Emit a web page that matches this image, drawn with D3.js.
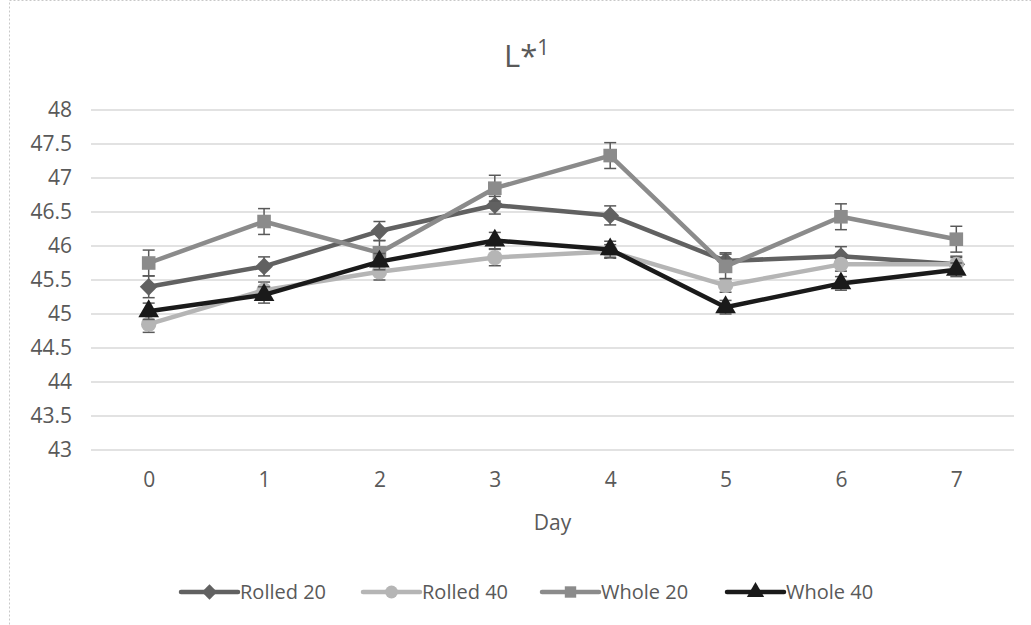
<!DOCTYPE html>
<html>
<head>
<meta charset="utf-8"/>
<title>L*1</title>
<style>
  body { margin: 0; background: #fff; }
  text { font-family: "Open Sans", "Noto Sans", sans-serif; fill: #595959; }
</style>
</head>
<body>
<svg id="chart"></svg>
<script src="https://d3js.org/d3.v7.min.js"></script>
<script>
const days = ["0", "1", "2", "3", "4", "5", "6", "7"];
const yTicks = [43, 43.5, 44, 44.5, 45, 45.5, 46, 46.5, 47, 47.5, 48];

const rolled20 = [45.40, 45.70, 46.22, 46.60, 46.45, 45.78, 45.85, 45.73];
const rolled40 = [44.85, 45.35, 45.62, 45.83, 45.92, 45.42, 45.73, 45.73];
const whole20  = [45.75, 46.36, 45.90, 46.85, 47.33, 45.70, 46.43, 46.10];
const whole40  = [45.04, 45.28, 45.77, 46.08, 45.95, 45.10, 45.45, 45.65];

const rolled20Err = [0.16, 0.14, 0.14, 0.13, 0.14, 0.12, 0.14, 0.12];
const rolled40Err = [0.12, 0.12, 0.12, 0.12, 0.10, 0.10, 0.10, 0.10];
const whole20Err  = [0.19, 0.19, 0.18, 0.19, 0.19, 0.18, 0.19, 0.19];
const whole40Err  = [0.12, 0.12, 0.12, 0.12, 0.12, 0.10, 0.10, 0.10];

const seriesNames = ["Rolled 20", "Rolled 40", "Whole 20", "Whole 40"];
const seriesColors = ["#616161", "#b5b5b5", "#8b8b8b", "#1a1a1a"];
const seriesShapes = [d3.symbolDiamond2, d3.symbolCircle, d3.symbolSquare, d3.symbolTriangle];

const series = [
  { name: seriesNames[0], values: rolled20, err: rolled20Err, color: seriesColors[0], shape: seriesShapes[0] },
  { name: seriesNames[1], values: rolled40, err: rolled40Err, color: seriesColors[1], shape: seriesShapes[1] },
  { name: seriesNames[2], values: whole20,  err: whole20Err,  color: seriesColors[2], shape: seriesShapes[2] },
  { name: seriesNames[3], values: whole40,  err: whole40Err,  color: seriesColors[3], shape: seriesShapes[3] }
];

const width = 1031, height = 625;
const plotLeft = 91, plotRight = 1014, plotTop = 110, plotBottom = 450;

const svg = d3.select("#chart").attr("width", width).attr("height", height);

// outer chart border
svg.append("rect")
  .attr("x", 9.5).attr("y", 0.5)
  .attr("width", 1040).attr("height", 640)
  .attr("fill", "none")
  .attr("stroke", "#c8c8c8")
  .attr("stroke-dasharray", "2,2");

const x = d3.scalePoint().domain(days).range([plotLeft, plotRight]).padding(0.5);
const y = d3.scaleLinear().domain([43, 48]).range([plotBottom, plotTop]);

// gridlines
svg.append("g")
  .selectAll("line")
  .data(yTicks)
  .enter().append("line")
    .attr("x1", plotLeft).attr("x2", plotRight)
    .attr("y1", d => y(d)).attr("y2", d => y(d))
    .attr("stroke", "#d9d9d9")
    .attr("stroke-width", 1.5);

// y axis labels
const yAxis = svg.append("g")
  .attr("transform", "translate(" + plotLeft + ",0)")
  .call(d3.axisLeft(y).tickValues(yTicks).tickSize(0).tickPadding(19).tickFormat(d3.format("")));
yAxis.select(".domain").remove();
yAxis.selectAll("text").style("font-size", "21px").attr("fill", "#595959");

// x axis labels
const xAxis = svg.append("g")
  .attr("transform", "translate(0," + plotBottom + ")")
  .call(d3.axisBottom(x).tickSize(0).tickPadding(22));
xAxis.select(".domain").remove();
xAxis.selectAll("text").style("font-size", "21px").attr("fill", "#595959");

// axis title
svg.append("text")
  .attr("x", (plotLeft + plotRight) / 2)
  .attr("y", 530)
  .attr("text-anchor", "middle")
  .style("font-size", "21px")
  .text("Day");

// chart title
const title = svg.append("text")
  .attr("x", 504)
  .attr("y", 67)
  .attr("text-anchor", "start")
  .style("font-size", "31px");
title.append("tspan").text("L*");
title.append("tspan").attr("dy", -12).style("font-size", "21px").text("1");

const line = d3.line()
  .x((d, i) => x(days[i]))
  .y(d => y(d));

series.forEach(function(s) {
  const g = svg.append("g");

  g.append("path")
    .datum(s.values)
    .attr("d", line)
    .attr("fill", "none")
    .attr("stroke", s.color)
    .attr("stroke-width", 4.5)
    .attr("stroke-linejoin", "round");

  // error bars
  const eb = g.selectAll(".err")
    .data(s.values)
    .enter().append("g");
  eb.append("line")
    .attr("x1", (d, i) => x(days[i])).attr("x2", (d, i) => x(days[i]))
    .attr("y1", (d, i) => y(d + s.err[i])).attr("y2", (d, i) => y(d - s.err[i]))
    .attr("stroke", "#595959").attr("stroke-width", 1.5);
  eb.append("line")
    .attr("x1", (d, i) => x(days[i]) - 6).attr("x2", (d, i) => x(days[i]) + 6)
    .attr("y1", (d, i) => y(d + s.err[i])).attr("y2", (d, i) => y(d + s.err[i]))
    .attr("stroke", "#595959").attr("stroke-width", 1.5);
  eb.append("line")
    .attr("x1", (d, i) => x(days[i]) - 6).attr("x2", (d, i) => x(days[i]) + 6)
    .attr("y1", (d, i) => y(d - s.err[i])).attr("y2", (d, i) => y(d - s.err[i]))
    .attr("stroke", "#595959").attr("stroke-width", 1.5);

  // markers
  g.selectAll(".mark")
    .data(s.values)
    .enter().append("path")
      .attr("d", d3.symbol().type(s.shape).size(s.shape === d3.symbolDiamond2 ? 200 : 185))
      .attr("transform", (d, i) => "translate(" + x(days[i]) + "," + y(d) + ")")
      .attr("fill", s.color);
});

// legend
const legendX = [181, 363, 542, 727];
const legend = svg.append("g");
series.forEach(function(s, i) {
  const lg = legend.append("g").attr("transform", "translate(" + legendX[i] + ",592)");
  lg.append("line")
    .attr("x1", 0).attr("x2", 57)
    .attr("y1", 0).attr("y2", 0)
    .attr("stroke", s.color).attr("stroke-width", 4.5)
    .attr("stroke-linecap", "round");
  lg.append("path")
    .attr("d", d3.symbol().type(s.shape).size(s.shape === d3.symbolDiamond2 ? 150 : 130))
    .attr("transform", "translate(28.5,0)")
    .attr("fill", s.color);
  lg.append("text")
    .attr("x", 59).attr("y", 7)
    .style("font-size", "20px")
    .text(s.name);
});
</script>
</body>
</html>
